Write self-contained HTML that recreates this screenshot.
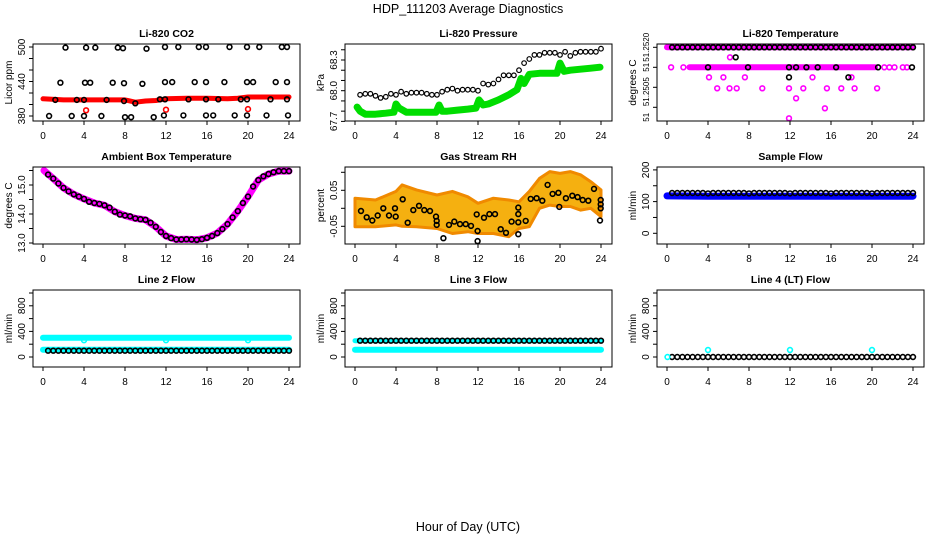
<!DOCTYPE html>
<html><head><meta charset="utf-8"><style>
html,body{margin:0;padding:0;background:#fff;}
svg{display:block;font-family:"Liberation Sans",Arial,sans-serif;}
</style></head><body>
<svg id="chart" width="936" height="540" viewBox="0 0 936 540" xmlns="http://www.w3.org/2000/svg">
<rect x="0" y="0" width="936" height="540" fill="#fff"/>
<text x="468" y="13" text-anchor="middle" font-size="12.5">HDP_111203  Average Diagnostics</text>
<text x="468" y="531" text-anchor="middle" font-size="12.5">Hour of Day (UTC)</text>
</svg>
<script>
// ---------- shared categories ----------
const halfHours = [0.5,1,1.5,2,2.5,3,3.5,4,4.5,5,5.5,6,6.5,7,7.5,8,8.5,9,9.5,10,10.5,11,11.5,12,12.5,13,13.5,14,14.5,15,15.5,16,16.5,17,17.5,18,18.5,19,19.5,20,20.5,21,21.5,22,22.5,23,23.5,24];
const xTicks = [0,4,8,12,16,20,24];

// ---------- Li-820 CO2 ----------
const co2BlackHours = [2.2,4.2,5.1,7.3,7.8,10.1,11.9,13.2,15.2,15.9,18.2,19.9,21.1,23.3,23.8, 1.7,4.1,4.6,6.8,7.9,9.7,11.9,12.6,14.8,15.9,17.7,19.9,20.5,22.7,23.8, 1.2,3.3,4.0,6.2,7.9,9.0,11.4,11.9,14.2,15.9,17.1,19.3,19.9,22.2,23.8, 0.6,2.8,4.0,5.7,8.0,8.6,10.8,11.8,13.7,15.9,16.6,18.7,19.9,21.8,23.9];
const co2BlackValues = [499,499,499,499,498,497,500,500,500,500,500,500,500,500,500, 438,438,438,438,437,436,439,439,439,439,439,439,439,439,439, 408,408,408,408,406,402,409,409,409,409,409,409,409,409,409, 380,380,380,380,378,378,378,381,381,381,381,381,381,381,381];
const co2RedHours = [4.2,12.0,20.0];
const co2RedValues = [390,391,392];
const co2BandHours = [0,2,4,6,8,9,10,11,12,14,16,18,19,20,22,24];
const co2BandValues = [410,408,408,408,408,404,406,407,410,411,411,410,411,413,413,413];

// ---------- Li-820 Pressure ----------
const pressureBlack = [67.96,67.97,67.97,67.95,67.93,67.94,67.97,67.96,67.99,67.97,67.98,67.98,67.98,67.97,67.96,67.96,67.99,68.01,68.02,68.00,68.01,68.01,68.01,68.00,68.07,68.06,68.07,68.11,68.15,68.15,68.15,68.20,68.27,68.31,68.35,68.35,68.37,68.37,68.37,68.35,68.38,68.34,68.37,68.38,68.38,68.38,68.38,68.41];
const pressureBandHours = [0.2,0.5,1,2,3,3.8,4.0,4.3,5,6,7,7.9,8.2,8.5,9,10,11,11.8,12.1,12.5,13,14,15,15.8,16.2,16.5,17,18,19,19.7,20,20.4,21,22,23,23.9];
const pressureBandValues = [67.84,67.80,67.77,67.77,67.78,67.79,67.87,67.83,67.79,67.79,67.79,67.79,67.86,67.80,67.80,67.81,67.82,67.83,67.91,67.86,67.87,67.91,67.96,68.01,68.12,68.07,68.16,68.17,68.17,68.17,68.27,68.19,68.20,68.21,68.22,68.23];

// ---------- Li-820 Temperature ----------
const tempTopBlack = [51.2520,51.2520,51.2520,51.2520,51.2520,51.2520,51.2520,51.2520,51.2520,51.2520,51.2520,51.2520,51.2520,51.2520,51.2520,51.2520,51.2520,51.2520,51.2520,51.2520,51.2520,51.2520,51.2520,51.2520,51.2520,51.2520,51.2520,51.2520,51.2520,51.2520,51.2520,51.2520,51.2520,51.2520,51.2520,51.2520,51.2520,51.2520,51.2520,51.2520,51.2520,51.2520,51.2520,51.2520,51.2520,51.2520,51.2520,51.2520];
const tempBandTopHours = [0,24];
const tempBandTopValues = [51.2520,51.2520];
const tempBandMidHours = [2.2,20.3];
const tempBandMidValues = [51.2515,51.2515];
const tempMagentaHours = [0.4,1.6,21.2,21.7,22.2,23.0,23.4,6.15,4.1,5.5,7.6,14.2,18.0,4.9,6.1,6.8,9.3,11.9,13.3,15.6,17.0,18.3,20.5,12.6,15.4,11.9];
const tempMagentaValues = [51.2515,51.2515,51.2515,51.2515,51.2515,51.2515,51.2515,51.25175,51.25125,51.25125,51.25125,51.25125,51.25125,51.250975,51.250975,51.250975,51.250975,51.250975,51.250975,51.250975,51.250975,51.250975,51.250975,51.250725,51.250475,51.250225];
const tempBlackHours = [4.0,7.9,11.9,12.6,13.6,14.7,16.5,20.6,23.9,6.7,11.9,17.7];
const tempBlackValues = [51.2515,51.2515,51.2515,51.2515,51.2515,51.2515,51.2515,51.2515,51.2515,51.25175,51.25125,51.25125];

// ---------- Ambient Box Temperature ----------
const ambientBlack = [15.36,15.22,15.05,14.9,14.78,14.68,14.6,14.52,14.42,14.38,14.35,14.3,14.22,14.08,13.98,13.95,13.92,13.85,13.82,13.8,13.7,13.56,13.38,13.24,13.17,13.12,13.12,13.13,13.12,13.11,13.13,13.18,13.24,13.34,13.48,13.65,13.88,14.1,14.38,14.6,14.95,15.17,15.3,15.38,15.44,15.48,15.48,15.48];
const ambientBandHours = [0.1,1,2,3,4,5,6,7,8,9,10,11,12,13,14,15,16,17,18,19,20,21,22,23,24];
const ambientBandValues = [15.5,15.22,14.9,14.68,14.52,14.38,14.3,14.08,13.95,13.85,13.8,13.56,13.24,13.12,13.13,13.11,13.18,13.34,13.65,14.1,14.6,15.17,15.38,15.48,15.48];

// ---------- Gas Stream RH ----------
const rhBlackHours = [0.59,1.14,1.69,2.21,2.76,3.32,3.90,3.97,4.65,5.14,5.69,6.24,6.76,7.32,7.90,7.97,7.97,8.62,9.17,9.69,10.24,10.80,11.32,11.87,11.96,11.96,12.59,13.11,13.66,14.21,14.73,15.28,15.93,15.93,15.93,15.93,16.65,17.14,17.72,18.27,18.79,19.28,19.84,19.93,20.58,21.2,21.72,22.21,22.76,23.32,23.97,23.97,23.97,23.9];
const rhBlackValues = [-0.0075,-0.025,-0.034,-0.02,0,-0.02,0,-0.023,0.025,-0.04,-0.005,0.007,-0.005,-0.0075,-0.023,-0.035,-0.046,-0.083,-0.046,-0.037,-0.044,-0.044,-0.049,-0.017,-0.063,-0.091,-0.026,-0.016,-0.016,-0.058,-0.068,-0.037,0.002,-0.016,-0.072,-0.039,-0.035,0.026,0.028,0.021,0.065,0.04,0.043,0.004,0.028,0.035,0.031,0.023,0.021,0.054,0.023,0.011,0,-0.034];
const rhCloudHours = [0,2,4,4.6,6,8,9.5,11,12,13.5,15,16,17,18,19,20,21,22,23,24];
const rhCloudUpper = [0.028,0.023,0.047,0.065,0.051,0.037,0.047,0.032,0.014,0.028,0.023,0.018,0.047,0.083,0.102,0.097,0.102,0.093,0.074,0.051];
const rhCloudLower = [-0.051,-0.051,-0.046,-0.05,-0.051,-0.056,-0.07,-0.065,-0.07,-0.07,-0.079,-0.056,-0.051,0.0,0.009,0.005,0.005,-0.005,0.0,-0.023];

// ---------- Sample Flow ----------
const sampleBlack = [127,127,127,127,127,127,127,126,127,127,127,127,127,127,127,126,127,127,127,127,127,127,127,126,127,127,127,127,127,127,127,126,127,127,127,127,127,127,127,126,127,127,127,127,127,127,127,127];
const sampleBandHours = [0,4,8,12,16,20,24];
const sampleBandValues = [118,117,117,117,117,117,117];

// ---------- Line flows ----------
const line2Black = [98,98,98,98,98,98,98,98,98,98,98,98,98,98,98,98,98,98,98,98,98,98,98,98,98,98,98,98,98,98,98,98,98,98,98,98,98,98,98,98,98,98,98,98,98,98,98,98];
const line2UpperHours = [0,24];
const line2UpperValues = [302,302];
const line2DipHours = [4,12,20];
const line2DipValues = [262,262,262];
const line2LowerHours = [0,24];
const line2LowerValues = [112,112];
const line3Black = [255,255,255,255,255,255,255,255,255,255,255,255,255,255,255,255,255,255,255,255,255,255,255,255,255,255,255,255,255,255,255,255,255,255,255,255,255,255,255,255,255,255,255,255,255,255,255,255];
const line3UpperHours = [0,24];
const line3UpperValues = [255,255];
const line3LowerHours = [0,24];
const line3LowerValues = [112,112];
const line4Black = [0,0,0,0,0,0,0,0,0,0,0,0,0,0,0,0,0,0,0,0,0,0,0,0,0,0,0,0,0,0,0,0,0,0,0,0,0,0,0,0,0,0,0,0,0,0,0,0];
const line4CyanHours = [0.05,4,12,20];
const line4CyanValues = [0,110,110,110];

const NS = "http://www.w3.org/2000/svg";
const svg = document.getElementById("chart");
function mk(tag, attrs, parent) {
  const e = document.createElementNS(NS, tag);
  for (const k in attrs) e.setAttribute(k, attrs[k]);
  (parent || svg).appendChild(e);
  return e;
}

function makePanel(col, row, name, title, refVal, refY, pxPerUnit, yTicks, yLabels, yTitle, yFont) {
  const L = 33 + 312 * col, R = 300 + 312 * col, T = 44 + 123 * row, B = 121 + 123 * row;
  const g = mk("g", {});
  
  
  const p = {
    L, R, T, B, g,
    sx: h => 43 + 312 * col + h * 10.25,
    sy: v => refY - (v - refVal) * pxPerUnit
  };
  const clipId = "clip-" + name;
  const cp = mk("clipPath", { id: clipId }, g);
  mk("rect", { x: L, y: T, width: R - L, height: B - T }, cp);
  p.plot = mk("g", { "clip-path": "url(#" + clipId + ")" }, g);
  
  

  const t = mk("text", { x: (L + R) / 2, y: T - 7, "text-anchor": "middle", "font-size": "10.5", "font-weight": "bold" }, g);
  t.textContent = title;
  
  

  const xa = mk("g", {}, g);
  
  
  xTicks.forEach(h => {
    const x = p.sx(h);
    const tk = mk("line", { x1: x, x2: x, y1: B, y2: B + 4, stroke: "#000", "stroke-width": 1 }, xa);
    
    
    const lb = mk("text", { x: x, y: B + 18, "text-anchor": "middle", "font-size": "10" }, xa);
    lb.textContent = String(h);
    
    
  });
  const ya = mk("g", {}, g);
  
  
  yTicks.forEach(v => {
    const y = p.sy(v);
    const tk = mk("line", { x1: L - 4, x2: L, y1: y, y2: y, stroke: "#000", "stroke-width": 1 }, ya);
    
    
  });
  yLabels.forEach(lab => {
    const y = p.sy(lab[0]);
    const lb = mk("text", { x: 0, y: 0, "text-anchor": "middle", "font-size": yFont || "10", transform: "translate(" + (L - 8) + "," + y + ") rotate(-90)" }, ya);
    lb.textContent = lab[1];
    
    
  });
  const yt = mk("text", { x: 0, y: 0, "text-anchor": "middle", "font-size": "10", transform: "translate(" + (L - 21) + "," + ((T + B) / 2) + ") rotate(-90)" }, ya);
  yt.textContent = yTitle;
  
  
  p.finish = () => {
    const bx = mk("rect", { x: L, y: T, width: R - L, height: B - T, fill: "none", stroke: "#000", "stroke-width": 1 }, g);
    
    
  };
  return p;
}

function band(p, hours, vals, color, width, name) {
  const pts = hours.map((h, i) => p.sx(h).toFixed(1) + "," + p.sy(vals[i]).toFixed(1)).join(" ");
  const pl = mk("polyline", { points: pts, fill: "none", stroke: color, "stroke-width": width, "stroke-linecap": "round", "stroke-linejoin": "round" }, p.plot);
  
  
}
function pts(p, hours, vals, color, name, r, sw) {
  hours.forEach((h, i) => {
    const c = mk("circle", { cx: p.sx(h).toFixed(1), cy: p.sy(vals[i]).toFixed(1), r: r || 2.4, fill: "none", stroke: color, "stroke-width": sw || 1.6 }, p.plot);
    
    
  });
}

// CO2
let p = makePanel(0, 0, "co2", "Li-820 CO2", 380, 116, 0.575, [380,400,420,440,460,480,500], [[380,"380"],[440,"440"],[500,"500"]], "Licor ppm");
band(p, co2BandHours, co2BandValues, "#ff0000", 5, "co2-red-band");
pts(p, co2RedHours, co2RedValues, "#ff0000", "co2-red-point");
pts(p, co2BlackHours, co2BlackValues, "#000", "co2-black-point");
p.finish();

// Pressure
p = makePanel(1, 0, "pressure", "Li-820 Pressure", 68.3, 60, 102.3, [67.7,67.8,67.9,68.0,68.1,68.2,68.3,68.4], [[67.7,"67.7"],[68.0,"68.0"],[68.3,"68.3"]], "kPa");
band(p, pressureBandHours, pressureBandValues, "#00dd00", 7, "pressure-green-band");
pts(p, halfHours, pressureBlack, "#000", "pressure-black-point", 2.3, 1.2);
p.finish();

// Temperature
p = makePanel(2, 0, "li820-temp", "Li-820 Temperature", 51.2520, 47.3, 40000, [51.2520,51.2515,51.2510,51.2505], [[51.2520,"51.2520"],[51.2515,"51"],[51.25089,"51.2505"],[51.25025,"51"]], "degrees C", "8");
band(p, tempBandTopHours, tempBandTopValues, "#ff00ff", 6, "temp-magenta-top-band");
band(p, tempBandMidHours, tempBandMidValues, "#ff00ff", 6, "temp-magenta-mid-band");
pts(p, tempMagentaHours, tempMagentaValues, "#ff00ff", "temp-magenta-point");
pts(p, halfHours, tempTopBlack, "#000", "temp-black-top-point");
pts(p, tempBlackHours, tempBlackValues, "#000", "temp-black-point");
p.finish();

// Ambient
p = makePanel(0, 1, "ambient", "Ambient Box Temperature", 15.0, 185, 29, [13.0,13.5,14.0,14.5,15.0,15.5], [[13,"13.0"],[14,"14.0"],[15,"15.0"]], "degrees C");
band(p, ambientBandHours, ambientBandValues, "#ff00ff", 7, "ambient-magenta-band");
pts(p, halfHours, ambientBlack, "#000", "ambient-black-point");
p.finish();

// RH
p = makePanel(1, 1, "rh", "Gas Stream RH", 0, 208.3, 360, [-0.05,0,0.05,0.1], [[-0.05,"-0.05"],[0.05,"0.05"]], "percent");
(function () {
  const up = rhCloudHours.map((h, i) => p.sx(h).toFixed(1) + "," + p.sy(rhCloudUpper[i]).toFixed(1));
  const lo = rhCloudHours.map((h, i) => p.sx(h).toFixed(1) + "," + p.sy(rhCloudLower[i]).toFixed(1)).reverse();
  const poly = mk("polygon", { points: up.concat(lo).join(" "), fill: "#f5b010", stroke: "#f08a00", "stroke-width": 3, "stroke-linejoin": "round" }, p.plot);
  
  
})();
pts(p, rhBlackHours, rhBlackValues, "#000", "rh-black-point");
p.finish();

// Sample flow
p = makePanel(2, 1, "sample-flow", "Sample Flow", 0, 233.3, 0.317, [0,50,100,150,200], [[0,"0"],[100,"100"],[200,"200"]], "ml/min");
band(p, sampleBandHours, sampleBandValues, "#0000ff", 7, "sample-blue-band");
pts(p, halfHours, sampleBlack, "#000", "sample-black-point");
p.finish();

const flowTicks = [0,200,400,600,800,1000];
const flowLabels = [[0,"0"],[400,"400"],[800,"800"]];
// Line 2
p = makePanel(0, 2, "line2", "Line 2 Flow", 0, 357, 0.064, flowTicks, flowLabels, "ml/min");
band(p, line2UpperHours, line2UpperValues, "#00ffff", 6, "line2-cyan-upper-band");
pts(p, line2DipHours, line2DipValues, "#00ffff", "line2-cyan-dip");
band(p, line2LowerHours, line2LowerValues, "#00ffff", 6, "line2-cyan-lower-band");
pts(p, halfHours, line2Black, "#000", "line2-black-point");
p.finish();
// Line 3
p = makePanel(1, 2, "line3", "Line 3 Flow", 0, 357, 0.064, flowTicks, flowLabels, "ml/min");
band(p, line3LowerHours, line3LowerValues, "#00ffff", 6, "line3-cyan-lower-band");
band(p, line3UpperHours, line3UpperValues, "#00ffff", 5, "line3-cyan-upper-band");
pts(p, halfHours, line3Black, "#000", "line3-black-point");
p.finish();
// Line 4
p = makePanel(2, 2, "line4", "Line 4 (LT) Flow", 0, 357, 0.064, flowTicks, flowLabels, "ml/min");
pts(p, halfHours, line4Black, "#000", "line4-black-point");
pts(p, line4CyanHours, line4CyanValues, "#00ffff", "line4-cyan-point");
p.finish();
</script>
</body></html>
